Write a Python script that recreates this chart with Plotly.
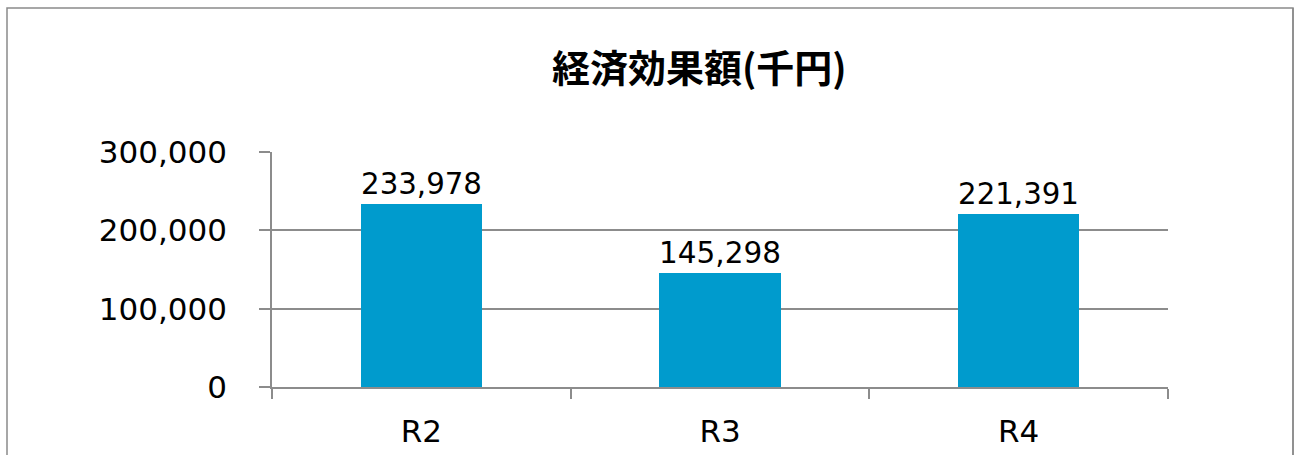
import plotly.graph_objects as go

categories = ["R2", "R3", "R4"]
values = [233978, 145298, 221391]
tick_vals = [0, 100000, 200000, 300000]
tick_text = ["0", "100,000", "200,000", "300,000"]
title_text = "経済効果額(千円)"

W, H = 1294, 455
L, R, T, B = 272, 126, 152, 68
pw = W - L - R
ph = H - T - B

font_main = "DejaVu Sans, Verdana, sans-serif"
grid_col = "#8c8c8c"

fig = go.Figure()
fig.add_trace(go.Bar(
    x=categories, y=values,
    marker=dict(color="rgb(0,155,205)", line=dict(width=0)),
    width=0.407,
    text=[f"{v:,}" for v in values],
    textposition="outside",
    textfont=dict(family=font_main, size=31, color="black"),
    cliponaxis=False,
))

fig.update_layout(
    width=W, height=H,
    margin=dict(l=L, r=R, t=T, b=B, pad=0, autoexpand=False),
    paper_bgcolor="white", plot_bgcolor="white",
    showlegend=False,
    font=dict(family=font_main, size=31, color="black"),
    bargap=0,
    annotations=[dict(
        text="<b>" + title_text + "</b>",
        xref="paper", yref="paper",
        x=(699 - L) / pw, y=(H - B - 66) / ph,
        xanchor="center", yanchor="middle",
        showarrow=False,
        font=dict(family="Noto Sans CJK JP", size=38, color="black"),
    )],
    shapes=[dict(
        type="rect", xref="paper", yref="paper",
        x0=(7 - L) / pw, x1=(1293 - L) / pw,
        y0=(H - B - 480) / ph, y1=(H - B - 8) / ph,
        line=dict(color="#8a8a8a", width=1.5),
        fillcolor="rgba(0,0,0,0)", layer="below",
    ), dict(
        type="line", xref="paper", yref="paper",
        x0=(1293 - L) / pw, x1=(1293 - L) / pw,
        y0=(H - B - 480) / ph, y1=(H - B - 8) / ph,
        line=dict(color="#8a8a8a", width=1.5),
        layer="below",
    )],
)

fig.update_xaxes(
    automargin=False,
    showline=True, linecolor=grid_col, linewidth=1.5,
    ticks="outside", tickson="boundaries", ticklen=10, tickcolor=grid_col, tickwidth=1.5,
    showgrid=False,
    tickfont=dict(family=font_main, size=31, color="black"),
    ticklabelstandoff=16,
)
fig.update_yaxes(
    automargin=False,
    range=[0, 300000.5],
    tickvals=tick_vals, ticktext=tick_text,
    showline=True, linecolor=grid_col, linewidth=1.5,
    ticks="outside", ticklen=11, tickcolor=grid_col, tickwidth=1.5,
    showgrid=True, gridcolor=grid_col, gridwidth=1.5,
    zeroline=False,
    tickfont=dict(family=font_main, size=31, color="black"),
    ticklabelstandoff=26,
)

fig.write_html(
    "out.html",
    config={"displayModeBar": False},
    post_script="document.body.style.margin='0';document.body.style.overflow='hidden';",
)
